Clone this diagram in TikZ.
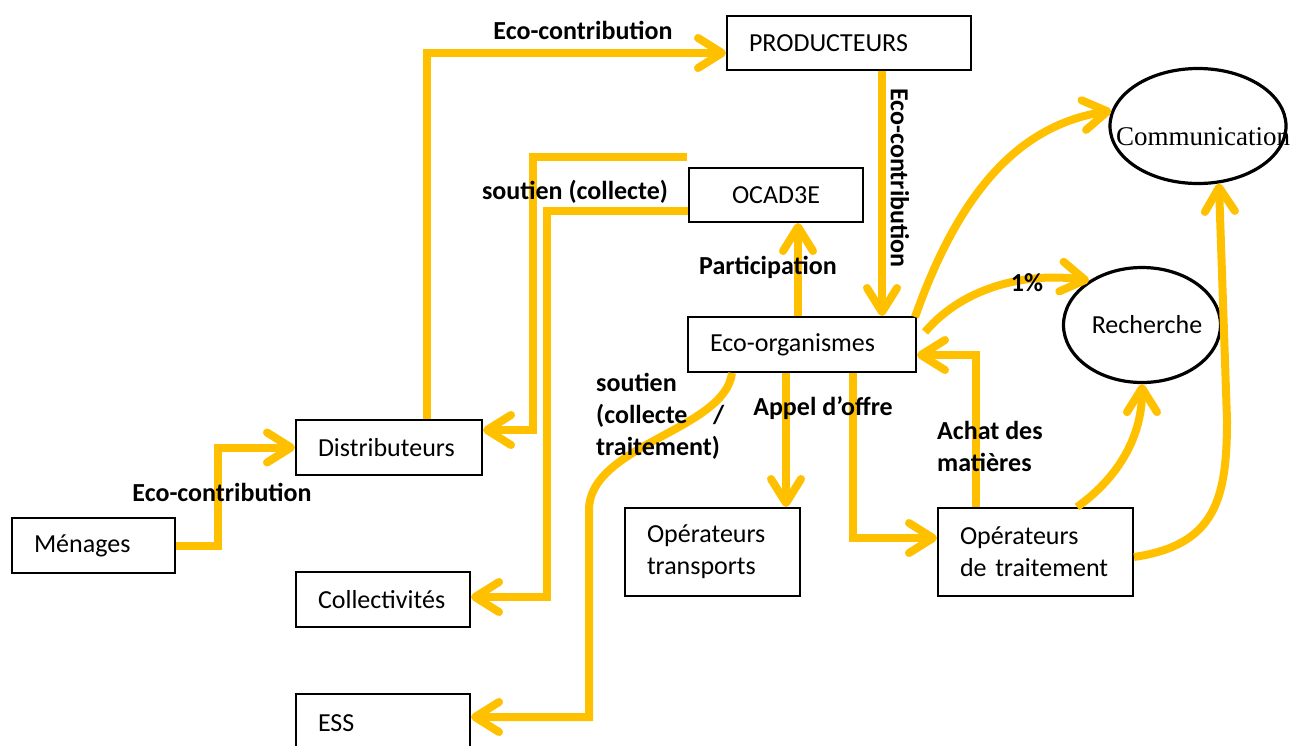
\documentclass[tikz,border=0pt]{standalone}
\usepackage{fontspec}
\setmainfont{Carlito}
\newfontfamily\serifcomm{Liberation Serif}
\usetikzlibrary{arrows.meta,shapes.geometric}
\definecolor{flux}{HTML}{FFC000}
\newcommand\txt{\fontsize{26}{32}\selectfont}
\tikzset{
  boite/.style={draw, line width=2pt, anchor=north west, inner xsep=22pt, inner ysep=0pt, align=left, font=\txt},
  bulle/.style={draw, ellipse, line width=3.2pt, inner sep=0pt},
  fleche/.style={draw=flux, line width=8pt, -{Straight Barb[round,length=24pt,width=30pt]}},
  etiq/.style={font=\txt\bfseries, inner sep=0pt},
}
\begin{document}
\begin{tikzpicture}[x=1pt,y=-1pt]
\useasboundingbox (0,0) rectangle (1293,745);
% boxes
\node[boite, minimum height=54pt, text width=200pt] (prod) at (726,15) {PRODUCTEURS};
\node[boite, minimum height=54pt, text width=130pt, align=center] (ocad) at (688,167) {OCAD3E};
\node[boite, minimum height=55pt, text width=184pt] (eco) at (687,316) {Eco-organismes};
\node[boite, minimum height=55pt, text width=142pt] (dist) at (295,419) {Distributeurs};
\node[boite, minimum height=55pt, text width=119pt] (men) at (11,517) {Ménages};
\node[boite, minimum height=55pt, text width=130pt] (coll) at (295,571) {Collectivités};
\node[boite, minimum height=58pt, text width=130pt] (ess) at (295,693) {ESS};
\node[boite, minimum height=88pt, text width=131pt] (trans) at (624,507) {Opérateurs\\transports};
\node[boite, minimum height=88pt, text width=151pt] (trait) at (937,507) {Opérateurs\\de~traitement};
\node[bulle, minimum width=176pt, minimum height=115pt,
  label={[font=\serifcomm\fontsize{27}{32}\selectfont, xshift=5pt, yshift=-11pt]center:Communication}] (comm) at (1198,126) {};
\node[bulle, minimum width=157pt, minimum height=115pt,
  label={[font=\txt, xshift=5pt]center:Recherche}] (rech) at (1142,325) {};
% flows on the left
\draw[fleche] (men.east) -- ++(42,0) |- (dist.west);
\draw[fleche] (dist.north -| 427,0) |- (prod.west |- 0,53);
\draw[fleche] (prod.south -| 882,0) -- (eco.north -| 882,0);
\coordinate (ocbord) at (687,157);
\draw[fleche] (ocbord) -| (533,430) -- (dist.east |- 0,430);
\draw[fleche] (ocad.west |- 0,211) -| (547,597) -- (coll.east |- 0,597);
\draw[fleche] (eco.north -| 798,0) -- (ocad.south -| 798,0);
\draw[fleche] (eco.south -| 732,0) .. controls (725,430) and (589,445) .. (589,510) |- (ess.east |- 0,717);
% flows to the operators
\draw[fleche] (eco.south -| 786,0) -- (trans.north -| 786,0);
\draw[fleche] (eco.south -| 853,0) |- (trait.west |- 0,538);
\draw[fleche] (trait.north -| 976,0) |- (eco.east |- 0,355);
% flows on the right
\draw[fleche] ([shift={(-2,1)}]eco.north east) .. controls (960,190) and (1020,125) .. (comm.170);
\draw[fleche] ([shift={(8,16)}]eco.north east) .. controls (965,285) and (1030,272) .. (rech.140);
\draw[fleche] (trait.north -| 1077,0) .. controls (1115,480) and (1142,440) .. (rech.south);
\draw[fleche] (trait.east |- 0,557) .. controls (1215,545) and (1227,500) .. (1227,420) -- (comm.-70);
% labels
\node[etiq] (lprod) at (583,30) {Eco-contribution};
\node[etiq, rotate=-90] (lvert) at (900,178) {Eco-contribution};
\node[etiq] (lmen) at (222,492) {Eco-contribution};
\node[etiq] (lsout) at (575,192) {soutien (collecte)};
\node[etiq] (lpart) at (768,267) {Participation};
\node[etiq, anchor=west, text width=128pt, align=left] (lsoutb) at (596,416) {soutien\\(collecte\hfill/\\traitement)};
\node[etiq] (lappel) at (823,408) {Appel d’offre};
\node[etiq, anchor=west, align=left] (lachat) at (937,446) {Achat des\\matières};
\node[etiq] (lpct) at (1027,283) {1\%};
\end{tikzpicture}
\end{document}
